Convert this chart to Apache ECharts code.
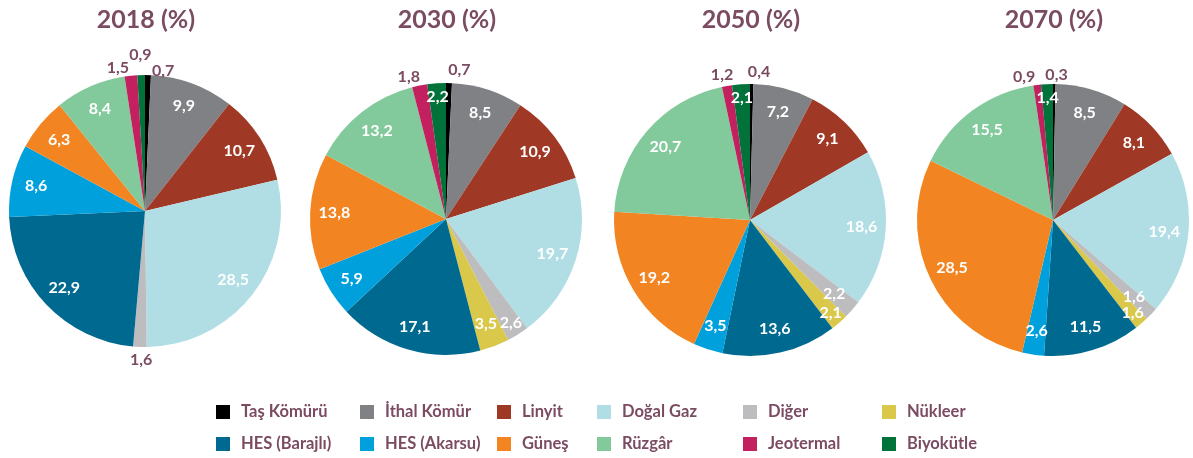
<!DOCTYPE html>
<html>
<head>
<meta charset="utf-8">
<script src="https://cdn.jsdelivr.net/npm/echarts@6/dist/echarts.min.js"></script>
<style>
  html, body { margin: 0; padding: 0; background: #fff; }
  #chart { width: 1193px; height: 458px; }
</style>
</head>
<body>
<div id="chart"></div>
<script>
// kaynak sırası, saat yönünde 12'den başlar
var categories = ['Taş Kömürü', 'İthal Kömür', 'Linyit', 'Doğal Gaz', 'Diğer', 'Nükleer',
  'HES (Barajlı)', 'HES (Akarsu)', 'Güneş', 'Rüzgâr', 'Jeotermal', 'Biyokütle'];
var titles = ['2018 (%)', '2030 (%)', '2050 (%)', '2070 (%)'];

var values2018 = [0.7, 9.9, 10.7, 28.5, 1.6, 0, 22.9, 8.6, 6.3, 8.4, 1.5, 0.9];
var values2030 = [0.7, 8.5, 10.9, 19.7, 2.6, 3.5, 17.1, 5.9, 13.8, 13.2, 1.8, 2.2];
var values2050 = [0.4, 7.2, 9.1, 18.6, 2.2, 2.1, 13.6, 3.5, 19.2, 20.7, 1.2, 2.1];
var values2070 = [0.3, 8.5, 8.1, 19.4, 1.6, 1.6, 11.5, 2.6, 28.5, 15.5, 0.9, 1.4];

var palette = ['#000000', '#808184', '#a03826', '#b0dee4', '#bdbdbf', '#d9c84a',
  '#006990', '#00a0dc', '#f28522', '#82c99b', '#c2205f', '#00723a'];
var plum = '#7b4b62';
var font = 'Lato, "Open Sans", sans-serif';

// yerleşim: merkez, yarıçap, dış etiketler (çizgi uzunluğu, yatay mesafe), kenar etiketleri
var pies = [
  { values: values2018, cx: 145, cy: 211, r: 136,
    outside: { 0: [4, 4], 10: [8, 1], 11: [20, -11], 4: [13, -13] }, edge: [] },
  { values: values2030, cx: 446, cy: 219, r: 136,
    outside: { 0: [13, -1], 10: [9, -2] }, edge: [11, 4] },
  { values: values2050, cx: 750, cy: 220, r: 136,
    outside: { 0: [12, -4], 10: [11, -8] }, edge: [11, 5] },
  { values: values2070, cx: 1053, cy: 220, r: 136,
    outside: { 0: [9, -9], 10: [8, 1] }, edge: [11, 5] }
];

function fmt(p) { return p.value.toFixed(1).replace('.', ','); }

var series = [];
var title = [];
pies.forEach(function (p, k) {
  title.push({
    text: titles[k], left: p.cx + 1, top: 7, textAlign: 'center', padding: 0,
    textStyle: { color: plum, fontSize: 25, fontWeight: 'bold', fontFamily: font }
  });
  series.push({
    type: 'pie', name: titles[k], center: [p.cx, p.cy], radius: p.r,
    avoidLabelOverlap: false, startAngle: 90, clockwise: true,
    emphasis: { scale: false },
    data: categories.map(function (name, i) {
      var o = p.outside[i];
      return {
        name: name, value: p.values[i],
        itemStyle: { color: palette[i] },
        label: o ? { show: true, position: 'outside', distanceToLabelLine: o[1] } : { show: false },
        labelLine: { show: false, length: o ? o[0] : 0, length2: 0 }
      };
    }),
    label: { formatter: fmt, color: plum, fontSize: 16, fontWeight: 'bold', fontFamily: font }
  });
  // etiket katmanları (şeffaf)
  [[0.6, false], [0.76, true]].forEach(function (layer) {
    series.push({
      type: 'pie', name: titles[k] + ' etiket', center: [p.cx, p.cy],
      radius: [p.r * layer[0], p.r], silent: true, avoidLabelOverlap: false,
      itemStyle: { color: 'rgba(0,0,0,0)' },
      labelLine: { show: false },
      data: categories.map(function (name, i) {
        var isEdge = p.edge.indexOf(i) >= 0;
        var show = !p.outside[i] && p.values[i] > 0 && isEdge === layer[1];
        return { name: name, value: p.values[i], label: { show: show } };
      }),
      label: { position: 'inside', formatter: fmt, color: '#fff', fontSize: 16,
        fontWeight: 'bold', fontFamily: font }
    });
  });
});

var legendCols = [216, 360, 497, 597, 743, 882];
var legend = legendCols.map(function (x, c) {
  return {
    orient: 'vertical', left: x, top: 403, itemGap: 14, padding: 0,
    itemWidth: 14, itemHeight: 14, icon: 'rect', selectedMode: false,
    data: [categories[c], categories[c + 6]],
    textStyle: { color: plum, fontSize: 16.5, fontWeight: 'bold', fontFamily: font,
      lineHeight: 18, padding: [0, 0, 0, 6] }
  };
});

var chart = echarts.init(document.getElementById('chart'));
chart.setOption({
  animation: false,
  title: title,
  legend: legend,
  series: series
});
</script>
</body>
</html>
